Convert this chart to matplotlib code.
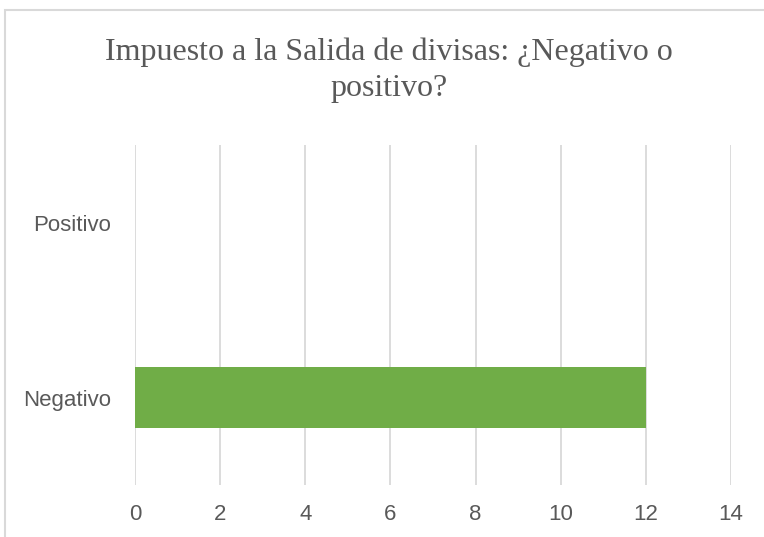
import matplotlib.pyplot as plt
from matplotlib.patches import Rectangle

categorias = ["Negativo", "Positivo"]
valores = [12, 0]
ticks_x = [0, 2, 4, 6, 8, 10, 12, 14]
titulo = "Impuesto a la Salida de divisas: ¿Negativo o\npositivo?"

gris = "#595959"

fig = plt.figure(figsize=(7.64, 5.37), dpi=100)
ax = fig.add_axes([135 / 764, 1 - 485 / 537, 596 / 764, 340 / 537])

# marco del grafico (cortado a la derecha y abajo)
fig.patches.append(Rectangle((5 / 764, -0.05), 1.1, 1 - 10 / 537 + 0.05,
                             transform=fig.transFigure, fill=False,
                             edgecolor="#d9d9d9", linewidth=1.5))

ax.barh(range(len(categorias)), valores, height=0.35, color="#70AD47", zorder=3)

ax.set_xlim(0, 14)
ax.set_ylim(-0.5, 1.45)
ax.set_xticks(ticks_x)
ax.set_yticks(range(len(categorias)))
ax.set_yticklabels(categorias)
ax.tick_params(length=0, labelsize=16, colors=gris)
ax.tick_params(axis="x", pad=14)
ax.tick_params(axis="y", pad=17)
for lab in ax.get_xticklabels() + ax.get_yticklabels():
    lab.set_family("Liberation Sans")

ax.grid(axis="x", color="#d9d9d9", linewidth=1.3, zorder=0)
for s in ax.spines.values():
    s.set_visible(False)

fig.text(389 / 764, 1 - 70 / 537, titulo, ha="center", va="center",
         fontsize=23, color=gris, family="Liberation Serif", linespacing=1.32)

fig.savefig("out.png", dpi=100)
